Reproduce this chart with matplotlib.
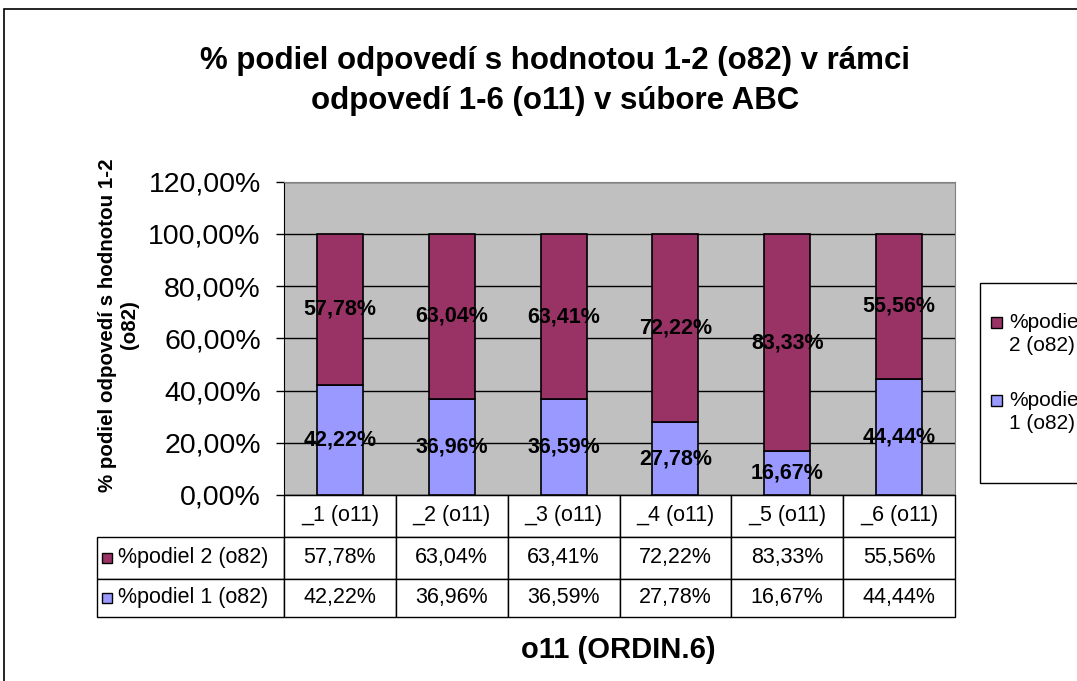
import matplotlib
matplotlib.use("Agg")
import matplotlib.pyplot as plt
from matplotlib.patches import Rectangle
from matplotlib.table import Table

plt.rcParams['font.family'] = ['Liberation Sans', 'DejaVu Sans']

categories = ["_1 (o11)", "_2 (o11)", "_3 (o11)", "_4 (o11)", "_5 (o11)", "_6 (o11)"]
podiel1 = [42.22, 36.96, 36.59, 27.78, 16.67, 44.44]
podiel2 = [57.78, 63.04, 63.41, 72.22, 83.33, 55.56]
series_names = ["%podiel 2 (o82)", "%podiel 1 (o82)"]
legend_lines = [["%podiel", "2 (o82)"], ["%podiel", "1 (o82)"]]
yticks = [0, 20, 40, 60, 80, 100, 120]

title = "% podiel odpovedí s hodnotou 1-2 (o82) v rámci\nodpovedí 1-6 (o11) v súbore ABC"
ylabel = "% podiel odpovedí s hodnotou 1-2\n(o82)"
xlabel = "o11 (ORDIN.6)"

C2 = "#993366"
C1 = "#9999FF"
BG = "#C0C0C0"

W, H = 1077, 681
fig = plt.figure(figsize=(W / 100, H / 100), dpi=100)

def fx(px):
    return px / W

def fy(py):
    return 1 - py / H

# figure border
fig.patches.append(Rectangle((fx(4), fy(H + 20)), 1.2, fy(9) - fy(H + 20),
                             transform=fig.transFigure, fill=False,
                             edgecolor="black", linewidth=1.2))

ax_l, ax_r, ax_t, ax_b = 284, 955, 181.7, 495
ax = fig.add_axes([fx(ax_l), fy(ax_b), fx(ax_r - ax_l), fy(ax_t) - fy(ax_b)])
ax.set_facecolor(BG)

x = list(range(len(categories)))
ax.bar(x, podiel1, width=0.41, color=C1, edgecolor="black", linewidth=1.2, zorder=3)
ax.bar(x, podiel2, width=0.41, bottom=podiel1, color=C2, edgecolor="black",
       linewidth=1.2, zorder=3)

def fmt(v):
    return f"{v:.2f}%".replace(".", ",")

for i in x:
    ax.text(i, podiel1[i] / 2, fmt(podiel1[i]), ha="center", va="center",
            fontsize=15.5, fontweight="bold", zorder=5)
    ax.text(i, podiel1[i] + podiel2[i] / 2, fmt(podiel2[i]), ha="center",
            va="center", fontsize=15.5, fontweight="bold", zorder=5)

ax.set_xlim(-0.5, len(categories) - 0.5)
ax.set_ylim(0, 120)
ax.set_yticks(yticks)
ax.set_yticklabels([fmt(v) for v in yticks], fontsize=20.5)
ax.yaxis.grid(True, color="black", linewidth=1.0, zorder=0)
ax.set_axisbelow(True)
ax.set_xticks([])
ax.tick_params(axis="y", length=5.8, width=1, pad=11)
for s in ["top", "right"]:
    ax.spines[s].set_color("#808080")
for s in ["left", "bottom"]:
    ax.spines[s].set_color("black")

# data table below the axes (cell sizes in axes units)
axw = ax_r - ax_l
axh = ax_b - ax_t
row_px = [42, 42, 38]
row_h = [h / axh for h in row_px]
col_w = 1 / len(categories)
lab_w = (ax_l - 97) / axw
tot_h = sum(row_h)
tbl = Table(ax, bbox=[0, -tot_h, 1, tot_h])
for j, c in enumerate(categories):
    tbl.add_cell(0, j, width=col_w, height=row_h[0], text=c, loc="center",
                 facecolor="white")
rows = [podiel2, podiel1]
for r, (name, vals) in enumerate(zip(series_names, rows), start=1):
    tbl.add_cell(r, -1, width=lab_w, height=row_h[r], text=name, loc="left",
                 facecolor="white")
    for j, v in enumerate(vals):
        tbl.add_cell(r, j, width=col_w, height=row_h[r], text=fmt(v), loc="center",
                     facecolor="white")
tbl.auto_set_font_size(False)
tbl.set_fontsize(15.5)
for (r, c), cell in tbl.get_celld().items():
    cell.set_linewidth(1.0)
    if c == -1:
        cell.PAD = 0.11
tbl.set_clip_on(False)
ax.add_table(tbl)

# legend squares in the table row labels
for r, col in enumerate([C2, C1]):
    yc = [558, 598][r]
    fig.patches.append(Rectangle((fx(102), fy(yc + 5)), fx(10), fy(yc - 5) - fy(yc + 5),
                                 transform=fig.transFigure, facecolor=col,
                                 edgecolor="black", linewidth=1.0, zorder=10))

# titles
fig.text(fx(555), fy(81), title, ha="center", va="center", fontsize=22.5,
         fontweight="bold", linespacing=1.4)
fig.text(fx(119), fy(325), ylabel, ha="center", va="center", rotation=90,
         fontsize=14.8, fontweight="bold", linespacing=1.2, multialignment="center")
fig.text(fx(618), fy(650), xlabel, ha="center", va="center", fontsize=21,
         fontweight="bold")

# legend (partly cut off by the right figure edge, as in the reference)
fig.patches.append(Rectangle((fx(980), fy(483)), fx(140), fy(283) - fy(483),
                             transform=fig.transFigure, facecolor="white",
                             edgecolor="black", linewidth=1.0))
for k, (col, lines) in enumerate(zip([C2, C1], legend_lines)):
    y0 = [322, 400][k]
    fig.patches.append(Rectangle((fx(991), fy(y0 + 5.5)), fx(11), fy(y0 - 5.5) - fy(y0 + 5.5),
                                 transform=fig.transFigure, facecolor=col,
                                 edgecolor="black", linewidth=1.0))
    fig.text(fx(1009), fy(y0), lines[0], ha="left", va="center", fontsize=15)
    fig.text(fx(1009), fy(y0 + 23), lines[1], ha="left", va="center", fontsize=15)

fig.savefig("out.png", dpi=100)
